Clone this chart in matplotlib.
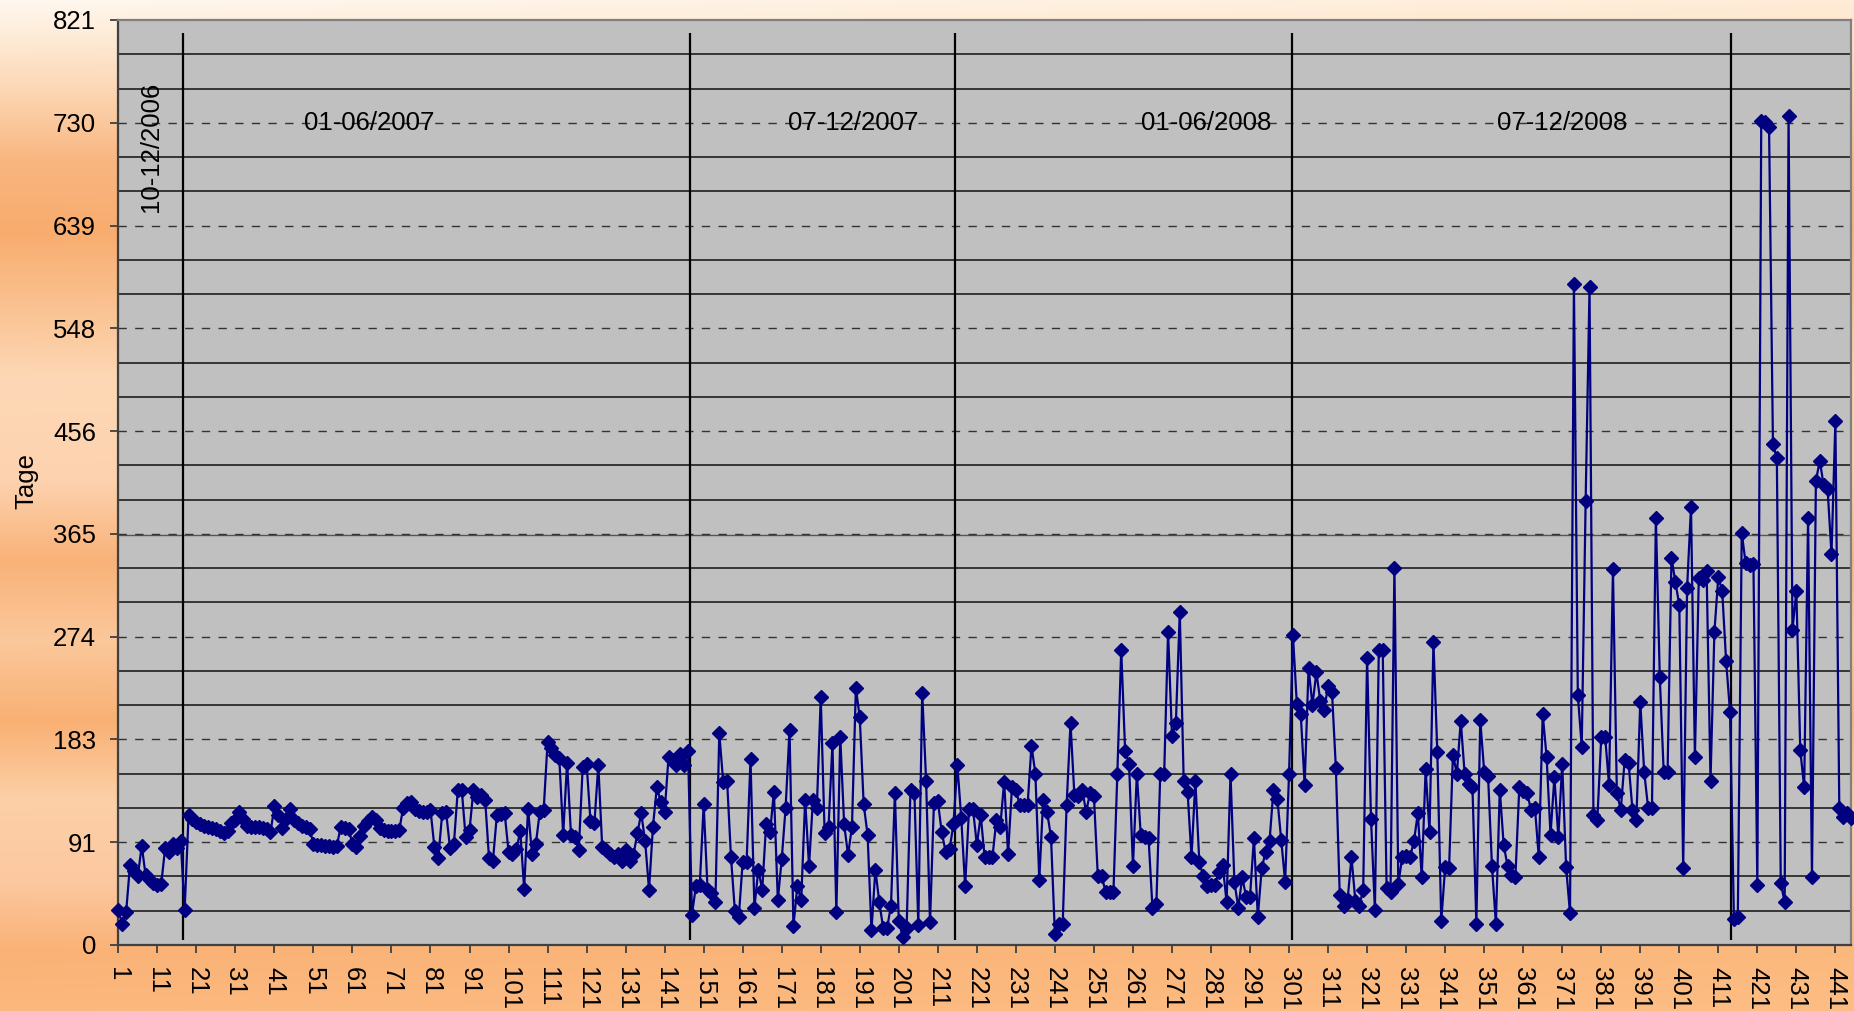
import numpy as np
import matplotlib
matplotlib.use("Agg")
import matplotlib.pyplot as plt

# Tage je Datensatz
tage = [
    31, 19, 29, 71, 66, 61, 88, 62, 58, 55,
    53, 54, 86, 83, 90, 86, 92, 31, 115, 112,
    109, 107, 106, 105, 104, 103, 101, 99, 101, 108,
    111, 118, 112, 106, 105, 105, 105, 104, 103, 100,
    123, 115, 104, 112, 121, 111, 108, 106, 105, 103,
    90, 89, 89, 88, 88, 87, 88, 105, 104, 103,
    90, 87, 97, 106, 110, 114, 111, 104, 102, 101,
    101, 101, 102, 122, 126, 127, 121, 119, 118, 118,
    120, 87, 77, 117, 118, 86, 90, 138, 138, 96,
    102, 138, 131, 133, 129, 77, 75, 115, 116, 117,
    83, 81, 85, 101, 50, 121, 81, 90, 118, 120,
    180, 175, 169, 166, 98, 162, 98, 96, 84, 158,
    161, 110, 108, 160, 87, 84, 81, 78, 81, 75,
    84, 75, 80, 99, 117, 92, 49, 105, 140, 127,
    118, 167, 164, 160, 170, 160, 172, 27, 52, 53,
    125, 49, 46, 38, 188, 145, 146, 78, 30, 25,
    74, 74, 165, 33, 67, 49, 107, 100, 136, 40,
    76, 122, 191, 17, 52, 40, 129, 70, 129, 122,
    220, 99, 105, 179, 29, 185, 107, 80, 105, 228,
    202, 125, 98, 13, 67, 38, 15, 15, 35, 135,
    21, 7, 15, 138, 135, 18, 224, 146, 20, 126,
    128, 100, 83, 85, 107, 160, 113, 52, 121, 121,
    89, 115, 78, 78, 78, 111, 105, 145, 81, 140,
    138, 124, 124, 124, 177, 152, 58, 129, 118, 96,
    10, 19, 19, 124, 197, 133, 132, 138, 118, 135,
    132, 61, 61, 47, 47, 47, 152, 262, 172, 161,
    70, 152, 98, 96, 95, 33, 36, 152, 152, 278,
    186, 197, 296, 146, 136, 78, 146, 74, 61, 52,
    53, 53, 65, 71, 38, 152, 56, 33, 60, 43,
    43, 95, 25, 68, 83, 92, 138, 130, 93, 56,
    152, 275, 214, 205, 142, 246, 213, 242, 217, 209,
    230, 225, 157, 44, 35, 40, 78, 39, 35, 49,
    255, 112, 31, 262, 262, 51, 47, 335, 54, 78,
    79, 78, 92, 117, 60, 156, 100, 269, 171, 21,
    69, 68, 169, 152, 199, 152, 143, 140, 19, 200,
    154, 150, 70, 19, 138, 89, 70, 62, 60, 140,
    137, 135, 120, 122, 78, 205, 167, 98, 149, 96,
    161, 69, 28, 587, 222, 176, 394, 584, 115, 111,
    185, 185, 142, 334, 135, 120, 164, 162, 120, 111,
    216, 154, 122, 122, 379, 238, 154, 154, 344, 322,
    302, 68, 317, 389, 167, 326, 324, 332, 146, 278,
    327, 314, 252, 207, 23, 25, 366, 339, 337, 338,
    53, 732, 731, 726, 445, 432, 55, 38, 736, 280,
    314, 173, 140, 379, 60, 412, 430, 408, 405, 347,
    465, 122, 114, 117, 113,
]

# Zeitraum-Markierungen (Position auf der Kategorienachse)
perioden_pos = [17.7, 147.4, 215.3, 301.7, 414.2]
perioden_text = ['10-12/2006', '01-06/2007', '07-12/2007', '01-06/2008', '07-12/2008']
text_x = [9.4, 65.2, 189.2, 279.8, 371.0]

ytick_labels = ['0', '91', '183', '274', '365', '456', '548', '639', '730', '821']
quartal = 365 / 4
monat = 365 / 12

plt.rcParams['font.family'] = ['Liberation Sans', 'DejaVu Sans']

fig = plt.figure(figsize=(18.54, 10.11), dpi=100)

# Hintergrund (Farbverlauf orange)
bg = fig.add_axes([0, 0, 1, 1], zorder=-10)
stops_y = [0, 30, 90, 160, 230, 300, 380, 480, 560, 640, 720, 800, 880, 950, 1011]
stops_c = np.array([
    (255, 247, 238), (254, 238, 220), (252, 215, 180), (249, 182, 128),
    (248, 172, 110), (250, 192, 142), (253, 216, 182), (253, 210, 175),
    (249, 178, 120), (251, 200, 155), (249, 176, 115), (252, 208, 168),
    (252, 200, 160), (250, 178, 118), (252, 184, 126)]) / 255.0
yy = np.arange(1011)
img = np.stack([np.interp(yy, stops_y, stops_c[:, k]) for k in range(3)], axis=-1)
img = np.repeat(img[:, None, :], 60, axis=1)
xf = np.linspace(0, 1, 60)[None, :, None]
img = img * (1 - 0.25 * xf) + np.array([1.0, 0.80, 0.58]) * 0.25 * xf
bg.imshow(img, aspect='auto', extent=[0, 1, 0, 1], origin='upper')
bg.axis('off')

ax = fig.add_axes([118.3 / 1854, 1 - 945 / 1011, (1851 - 118.3) / 1854, 925 / 1011])
ax.set_facecolor('#C0C0C0')

x = np.arange(1, len(tage) + 1)
ymax = quartal * 9

# Gitterlinien: monatlich durchgezogen, quartalsweise gestrichelt
for k in range(1, 27):
    if k % 3 != 0:
        ax.axhline(monat * k, color='#1e1e1e', lw=1.2, zorder=1)
ax.axhline(363.8, color='#555555', lw=1.0, zorder=1)  # Jahreslinie
for k in range(1, 9):
    ax.axhline(quartal * k, color='#333333', lw=1.0, dashes=(6, 6), zorder=1)

ax.vlines(perioden_pos, 4.5, 810, color='black', lw=1.6, zorder=2)

ax.plot(x, tage, color='#000080', lw=1.6, marker='D', markersize=7,
        markerfacecolor='#000080', markeredgecolor='#000080', zorder=3, clip_on=False)

ax.set_xlim(1, len(tage))
ax.set_ylim(0, ymax)
ax.set_yticks([quartal * k for k in range(10)])
ax.set_yticklabels(ytick_labels)
xt = np.arange(1, len(tage) + 1, 10)
ax.set_xticks(xt)
ax.set_xticklabels([str(v) for v in xt], rotation=270)

ax.tick_params(axis='y', direction='out', length=6, width=1.3, pad=10,
               labelsize=18.5, colors='#404040', labelcolor='black')
ax.tick_params(axis='x', direction='out', length=6, width=1.3, pad=10,
               labelsize=18.5, colors='#404040', labelcolor='black')

for side in ['left', 'bottom']:
    ax.spines[side].set_color('#404040')
    ax.spines[side].set_linewidth(1.6)
for side in ['top', 'right']:
    ax.spines[side].set_color('#808080')
    ax.spines[side].set_linewidth(1.6)

ax.text(text_x[0], 709, perioden_text[0], rotation=90, ha='center', va='center',
        fontsize=18.5, zorder=4)
for tx, lab in zip(text_x[1:], perioden_text[1:]):
    ax.text(tx, quartal * 8, lab, ha='center', va='center', fontsize=18.5, zorder=4)

fig.text(26 / 1854, 1 - 481 / 1011, 'Tage', rotation=90, ha='center', va='center',
         fontsize=18.5)

fig.savefig('out.png', dpi=100)
